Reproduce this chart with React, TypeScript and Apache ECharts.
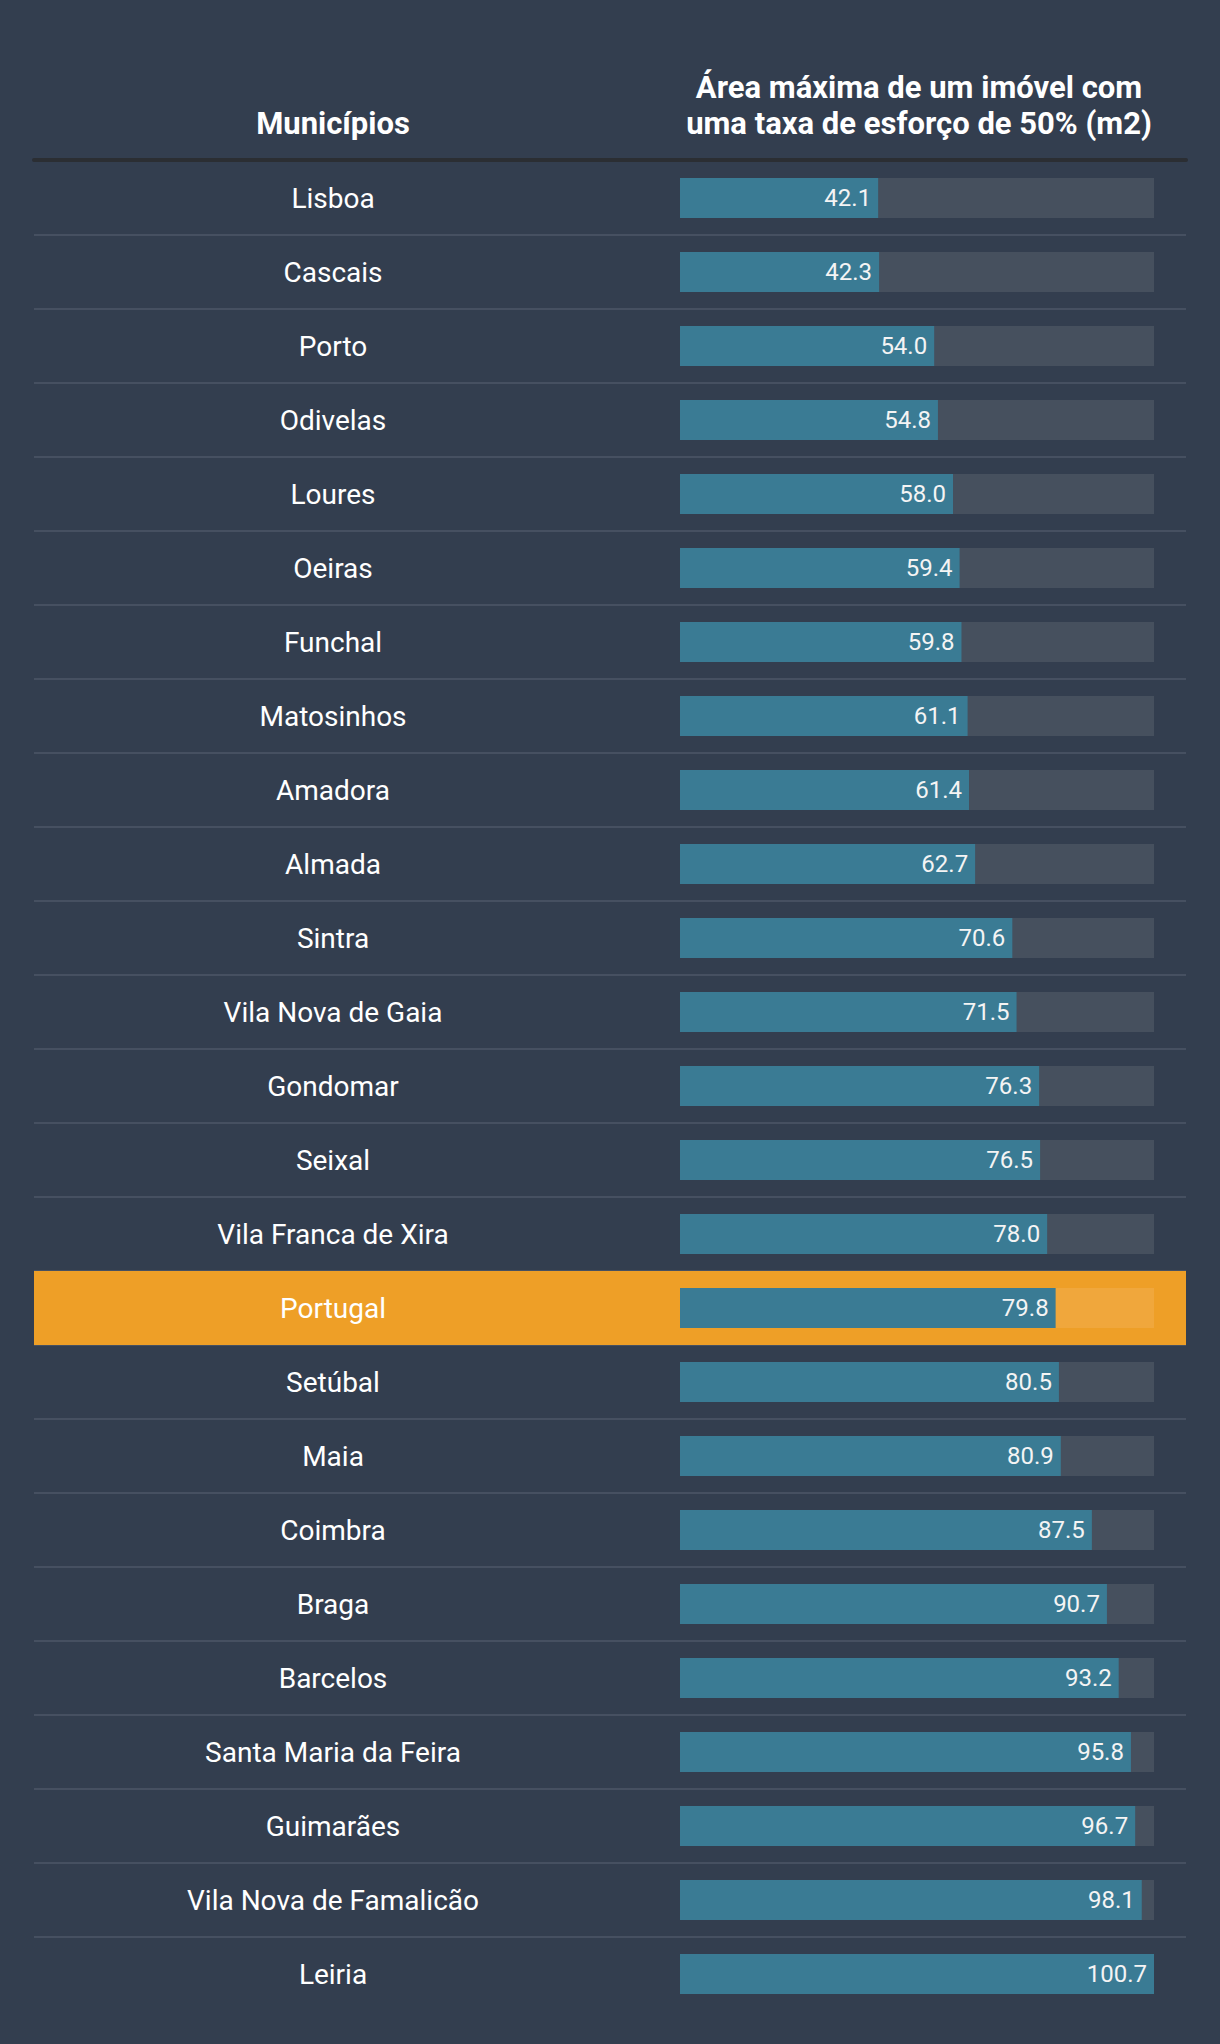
import React, { useEffect, useRef } from "react";
import * as echarts from "echarts";

const categories: string[] = [
  "Lisboa", "Cascais", "Porto", "Odivelas", "Loures", "Oeiras", "Funchal",
  "Matosinhos", "Amadora", "Almada", "Sintra", "Vila Nova de Gaia", "Gondomar",
  "Seixal", "Vila Franca de Xira", "Portugal", "Setúbal", "Maia", "Coimbra",
  "Braga", "Barcelos", "Santa Maria da Feira", "Guimarães",
  "Vila Nova de Famalicão", "Leiria",
];
const values: number[] = [
  42.1, 42.3, 54.0, 54.8, 58.0, 59.4, 59.8, 61.1, 61.4, 62.7, 70.6, 71.5, 76.3,
  76.5, 78.0, 79.8, 80.5, 80.9, 87.5, 90.7, 93.2, 95.8, 96.7, 98.1, 100.7,
];
const highlight = "Portugal";
const headerLeft = "Municípios";
const headerRight: string[] = [
  "Área máxima de um imóvel com",
  "uma taxa de esforço de 50% (m2)",
];

export default function App() {
  const ref = useRef<HTMLDivElement>(null);
  useEffect(() => {
    if (!ref.current) return;
    const chart = echarts.init(ref.current, null, { renderer: "svg" });
    const maxVal = Math.max(...values);
    const font = "Roboto";
    chart.setOption({
      animation: false,
      backgroundColor: "#333e4f",
      textStyle: { fontFamily: font },
      grid: [
        { left: 34, right: 34, top: 161, height: 1850 },
        { left: 680, right: 66, top: 161, height: 1850 },
      ],
      xAxis: [
        {
          gridIndex: 0, type: "value", min: 0, max: 1, position: "top", offset: 1,
          axisLine: { show: true, lineStyle: { color: "#2b2e33", width: 4 } },
          axisTick: { show: false }, axisLabel: { show: false },
          splitLine: { show: false },
        },
        { gridIndex: 1, type: "value", min: 0, max: maxVal, show: false },
      ],
      yAxis: [
        {
          gridIndex: 0, type: "category", data: categories, inverse: true,
          axisLine: { show: false }, axisTick: { show: false },
          axisLabel: { show: false },
          splitLine: {
            show: true, interval: 0, showMinLine: false, showMaxLine: false,
            lineStyle: { color: "#465061", width: 2 },
          },
        },
        {
          gridIndex: 1, type: "category", data: categories, inverse: true, z: 10,
          axisLine: { show: false }, axisTick: { show: false },
          splitLine: { show: false },
          axisLabel: {
            show: true, interval: 0, align: "center", margin: 347,
            color: "#ffffff", fontSize: 28, fontFamily: font,
          },
        },
      ],
      series: [
        {
          type: "bar", xAxisIndex: 0, yAxisIndex: 0, barWidth: "100%",
          data: categories.map((c) => (c === highlight ? 1 : "-")),
          itemStyle: { color: "#ee9f27" }, silent: true,
        },
        {
          type: "bar", xAxisIndex: 1, yAxisIndex: 1, barWidth: 40, barGap: "-100%",
          data: categories.map((c) => ({
            value: maxVal,
            itemStyle: { color: c === highlight ? "#f0a73c" : "#46505e" },
          })),
          silent: true,
        },
        {
          type: "bar", xAxisIndex: 1, yAxisIndex: 1, barWidth: 40, barGap: "-100%",
          data: values,
          itemStyle: { color: "#3a7b94" },
          label: {
            show: true, position: "insideRight", distance: 7,
            formatter: (p: any) => Number(p.value).toFixed(1),
            color: "#f4f4f4", fontSize: 24, fontFamily: font,
          },
        },
      ],
      graphic: [
        {
          type: "text", x: 333, y: 123,
          style: {
            text: headerLeft, fill: "#ffffff", font: `bold 31px ${font}`,
            textAlign: "center", textVerticalAlign: "middle",
          },
        },
        {
          type: "text", x: 919, y: 105,
          style: {
            text: headerRight.join("\n"), fill: "#ffffff", font: `bold 31px ${font}`,
            lineHeight: 36, textAlign: "center", textVerticalAlign: "middle",
          },
        },
      ],
    });
    return () => chart.dispose();
  }, []);
  return (
    <div
      ref={ref}
      style={{ position: "absolute", left: 0, top: 0, width: 1220, height: 2044 }}
    />
  );
}
